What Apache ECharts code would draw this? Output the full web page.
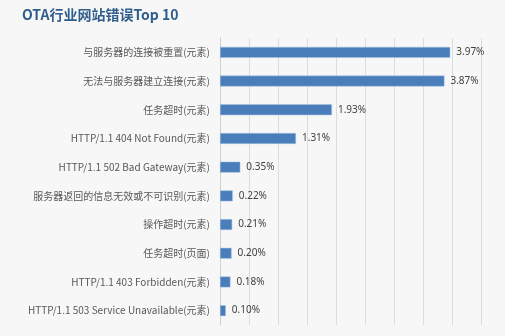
<!DOCTYPE html>
<html><head><meta charset="utf-8">
<script src="https://cdn.jsdelivr.net/npm/echarts@6/dist/echarts.min.js"></script>
<style>html,body{margin:0;padding:0;background:#f7f7f7}#c{width:505px;height:336px}</style>
</head><body><div id="c"></div>
<script>
var categories = ["与服务器的连接被重置(元素)","无法与服务器建立连接(元素)","任务超时(元素)","HTTP/1.1 404 Not Found(元素)","HTTP/1.1 502 Bad Gateway(元素)","服务器返回的信息无效或不可识别(元素)","操作超时(元素)","任务超时(页面)","HTTP/1.1 403 Forbidden(元素)","HTTP/1.1 503 Service Unavailable(元素)"];
var values = [3.97,3.87,1.93,1.31,0.35,0.22,0.21,0.20,0.18,0.10];
var chart = echarts.init(document.getElementById('c'));
chart.setOption({
  backgroundColor:'#f7f7f7',
  animation:false,
  title:{text:'OTA行业网站错误Top 10',left:17,top:3,textStyle:{color:'#2f5d8c',fontSize:14,fontWeight:'bold',fontFamily:'Noto Sans CJK SC'}},
  grid:{left:220,right:24,top:38,bottom:11,containLabel:false},
  xAxis:{type:'value',min:0,max:4.5,interval:0.5,axisLabel:{show:false},axisLine:{show:false},axisTick:{show:false},
    splitLine:{show:true,lineStyle:{color:'#dcdcdc',width:1}}},
  yAxis:{type:'category',inverse:true,data:categories,axisTick:{show:false},
    axisLine:{show:true,lineStyle:{color:'#d0d0d0'}},
    axisLabel:{color:'#595959',fontSize:10,margin:10,fontFamily:'Noto Sans CJK SC'}},
  series:[{type:'bar',data:values,barWidth:'38%',
    itemStyle:{color:'#4a7ebb',borderColor:'#a9c4e4',borderWidth:0.5},
    label:{show:true,position:'right',distance:6,color:'#404040',fontSize:10,fontFamily:'Noto Sans',
      formatter:function(p){return p.value.toFixed(2)+'%';}}}]
});
</script></body></html>
